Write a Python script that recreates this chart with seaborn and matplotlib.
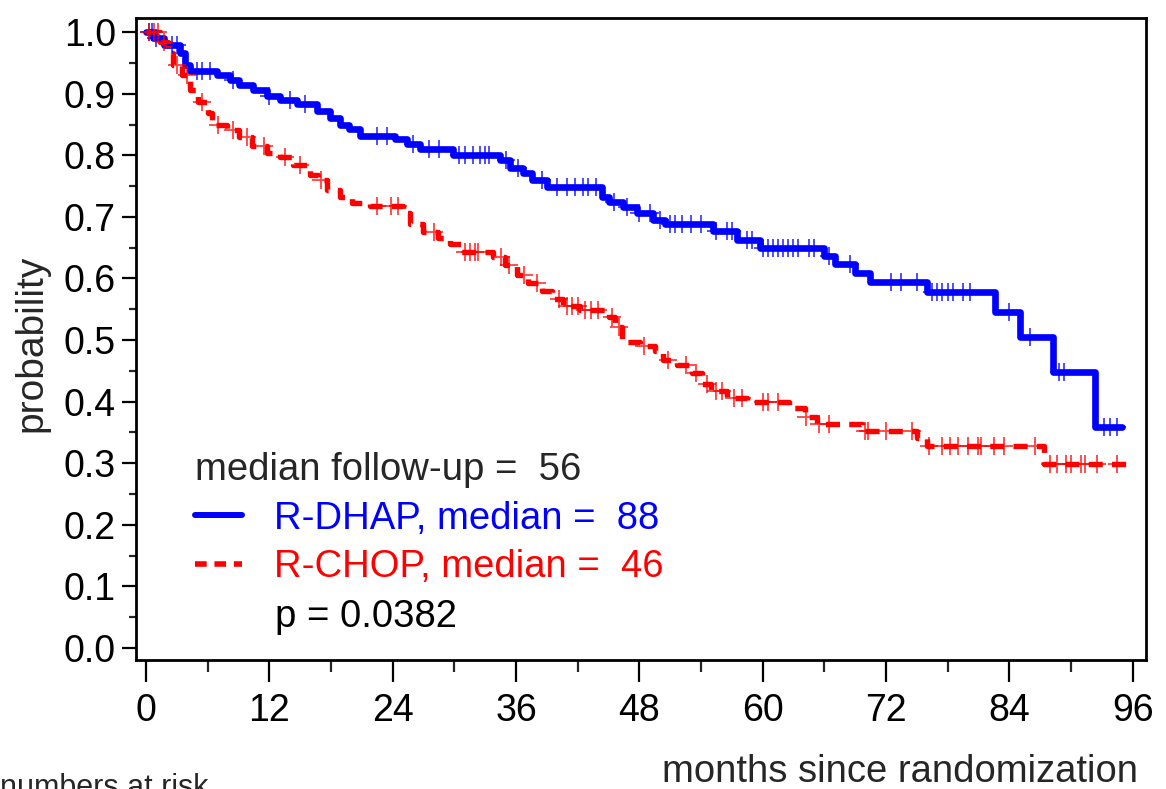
import numpy as np
import pandas as pd
import matplotlib
matplotlib.use("Agg")
import matplotlib.pyplot as plt
import seaborn as sns
from matplotlib.lines import Line2D
from matplotlib.ticker import MultipleLocator, FormatStrFormatter

# ---------------- data ----------------
dhap_time = [0, 0.7, 1.8, 3.3, 3.8, 4.3, 6.9, 8.2, 9.1, 10.4, 11.8, 13.0, 14.7, 16.6,
             17.9, 18.9, 19.8, 20.8, 24.2, 25.4, 26.7, 29.9, 34.4, 35.4, 36.7, 37.6,
             39.0, 44.4, 45.1, 46.4, 47.8, 49.3, 50.5, 55.2, 57.5, 59.7, 66.0, 67.0,
             69.0, 70.4, 76.0, 82.6, 85.0, 88.3, 92.3]
dhap_surv = [1.0, 0.99, 0.979, 0.966, 0.946, 0.937, 0.930, 0.922, 0.915, 0.906, 0.896,
             0.890, 0.884, 0.872, 0.861, 0.850, 0.842, 0.831, 0.826, 0.819, 0.810, 0.800,
             0.792, 0.780, 0.771, 0.760, 0.748, 0.733, 0.724, 0.716, 0.707, 0.695, 0.688,
             0.677, 0.663, 0.650, 0.636, 0.623, 0.609, 0.594, 0.578, 0.545, 0.505, 0.448,
             0.359]
dhap_end = 95.0
dhap_cens = [0.3, 0.6, 1.0, 2.5, 3.0, 5.0, 5.5, 6.2, 8.5, 12.0, 14.0, 15.5, 22.5, 23.5,
             26.0, 27.5, 28.5, 30.5, 31.0, 31.8, 32.5, 33.0, 33.4, 35.0, 36.2, 38.5,
             40.0, 41.0, 41.7, 42.5, 43.0, 43.8, 45.5, 46.8, 48.0, 49.0, 50.0, 51.0,
             51.5, 52.2, 53.0, 54.0, 55.5, 56.5, 57.0, 58.5, 59.0, 60.0, 60.5, 61.0,
             61.5, 62.0, 62.5, 63.0, 63.4, 64.5, 65.0, 66.5, 68.5, 72.5, 73.5, 75.0,
             76.5, 77.0, 77.5, 78.0, 78.5, 79.5, 80.2, 84.0, 86.0, 88.8, 89.3, 93.2,
             93.8, 94.5]

chop_time = [0, 1.4, 2.1, 2.6, 3.5, 4.3, 5.1, 6.0, 6.4, 7.9, 9.1, 10.3, 11.8, 13.0,
             14.3, 16.0, 16.7, 17.6, 18.9, 20.0, 21.8, 25.0, 25.7, 27.0, 28.4, 29.6,
             30.7, 33.8, 34.9, 36.1, 37.2, 38.5, 39.5, 40.6, 42.2, 45.1, 45.6, 46.3,
             48.1, 49.5, 50.3, 51.7, 53.1, 54.1, 55.0, 56.5, 58.5, 62.6, 64.1, 65.3,
             69.7, 75.0, 76.0, 87.4]
chop_surv = [1.0, 0.984, 0.966, 0.946, 0.930, 0.906, 0.886, 0.869, 0.849, 0.841, 0.830,
             0.815, 0.804, 0.797, 0.784, 0.768, 0.760, 0.744, 0.732, 0.722, 0.718, 0.706,
             0.688, 0.676, 0.666, 0.656, 0.643, 0.635, 0.622, 0.606, 0.593, 0.580, 0.566,
             0.556, 0.549, 0.537, 0.521, 0.497, 0.490, 0.482, 0.468, 0.459, 0.446, 0.428,
             0.417, 0.406, 0.400, 0.390, 0.375, 0.364, 0.352, 0.341, 0.328, 0.299]
chop_end = 96.0
chop_cens = [0.3, 0.8, 1.2, 1.8, 3.0, 4.0, 5.5, 7.0, 8.5, 9.8, 11.5, 13.5, 15.0, 17.0,
             22.5, 23.8, 24.5, 28.0, 31.0, 31.5, 32.0, 32.3, 34.5, 35.3, 36.8, 38.0,
             40.2, 41.0, 41.5, 42.0, 42.7, 43.3, 44.0, 45.3, 46.0, 48.5, 50.8, 52.5,
             53.5, 54.6, 55.5, 56.0, 57.2, 58.0, 60.0, 60.5, 61.5, 64.2, 65.5, 66.5,
             70.0, 70.3, 72.0, 74.5, 76.2, 77.5, 78.2, 79.0, 80.0, 81.0, 81.2, 82.5,
             83.5, 86.5, 88.0, 88.6, 89.5, 90.0, 91.0, 91.4, 92.5, 94.5]

x_ticks = [0, 12, 24, 36, 48, 60, 72, 84, 96]
y_ticks = [0.0, 0.1, 0.2, 0.3, 0.4, 0.5, 0.6, 0.7, 0.8, 0.9, 1.0]
label_dhap = "R-DHAP, median =  88"
label_chop = "R-CHOP, median =  46"
legend_title = "median follow-up =  56"
p_text = "p = 0.0382"
x_label = "months since randomization"
y_label = "probability"
risk_text = "numbers at risk"

BLUE = "#0000ff"
RED = "#ff0000"


def km_frame(t, s, end):
    return pd.DataFrame({"month": list(t) + [end], "prob": list(s) + [s[-1]]})


def cens_frame(t, s, c):
    idx = np.searchsorted(np.asarray(t), np.asarray(c), side="right") - 1
    return pd.DataFrame({"month": c, "prob": np.asarray(s)[idx]})


sns.set_style("ticks")
plt.rcParams["font.family"] = ["Liberation Sans", "DejaVu Sans"]

W, H = 1166, 789
fig = plt.figure(figsize=(W / 100, H / 100), dpi=100)
ax = fig.add_axes([136 / W, 1 - 660 / H, (1146 - 136) / W, (660 - 18) / H])

dash = (0, (2.6, 1.7))
sns.lineplot(data=km_frame(dhap_time, dhap_surv, dhap_end), x="month", y="prob",
             estimator=None, sort=False, drawstyle="steps-post", color=BLUE,
             lw=4.8, ax=ax, zorder=3)
sns.lineplot(data=km_frame(chop_time, chop_surv, chop_end), x="month", y="prob",
             estimator=None, sort=False, drawstyle="steps-post", color=RED,
             lw=3.9, linestyle=dash, ax=ax, zorder=3)
sns.scatterplot(data=cens_frame(dhap_time, dhap_surv, dhap_cens), x="month", y="prob",
                marker="+", s=170, color=BLUE, linewidth=1.3, alpha=0.75, ax=ax, zorder=4)
sns.scatterplot(data=cens_frame(chop_time, chop_surv, chop_cens), x="month", y="prob",
                marker="+", s=170, color=RED, linewidth=1.3, alpha=0.75, ax=ax, zorder=4)

ax.set_xlim(-0.97, 97.3)
ax.set_ylim(-0.0195, 1.023)
ax.set_xticks(x_ticks)
ax.set_yticks(y_ticks)
ax.xaxis.set_minor_locator(MultipleLocator(6))
ax.yaxis.set_minor_locator(MultipleLocator(0.05))
ax.yaxis.set_major_formatter(FormatStrFormatter("%.1f"))
ax.set_xlabel("")
ax.set_ylabel("")
for sp in ax.spines.values():
    sp.set_linewidth(2)
    sp.set_color("black")
ax.tick_params(axis="x", which="major", direction="out", length=16, width=1.6,
               labelsize=27, pad=8, colors="black")
ax.tick_params(axis="x", which="minor", direction="out", length=8.5, width=1.6)
ax.tick_params(axis="y", which="major", direction="out", length=10, width=1.6,
               labelsize=27, pad=4.5, colors="black")
ax.tick_params(axis="y", which="minor", direction="out", length=5, width=1.6)

handles = [Line2D([], [], color=BLUE, lw=4.3),
           Line2D([], [], color=RED, lw=4.0, linestyle=(0, (2.1, 1.4)))]
leg = ax.legend(handles, [label_dhap, label_chop], title=legend_title,
                loc="upper left", bbox_to_anchor=(0.058, 0.324), frameon=False,
                fontsize=27.5, title_fontsize=27.5, handlelength=1.25, handletextpad=0.84,
                labelspacing=0.33, borderpad=0, borderaxespad=0, alignment="left")
for txt, col in zip(leg.get_texts(), [BLUE, RED]):
    txt.set_color(col)

ax.text(275 / W, 1 - 617 / H, p_text, transform=fig.transFigure, fontsize=27.5,
        ha="left", va="center", color="black")

fig.text(1138 / W, 1 - 772 / H, x_label, ha="right", va="center", fontsize=27.5)
fig.text(31 / W, 1 - 343 / H, y_label, ha="center", va="center", fontsize=28,
         rotation=90)
fig.text(0, 1 - 773 / H, risk_text, ha="left", va="top", fontsize=22)

fig.savefig("out.png", dpi=100)
